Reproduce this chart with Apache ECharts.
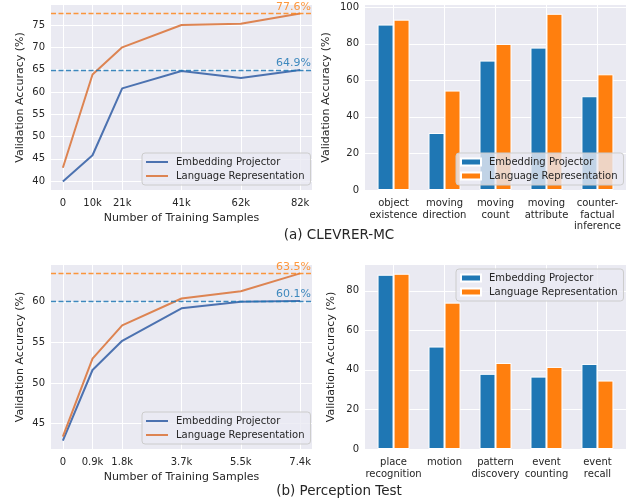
<!DOCTYPE html>
<html><head><meta charset="utf-8">
<script src="https://cdn.jsdelivr.net/npm/echarts@6/dist/echarts.min.js"></script>
<style>html,body{margin:0;padding:0;background:#fff}#c{width:628px;height:503px}</style>
</head><body><div id="c"></div>
<script>
// ---------- data ----------
const legendLabels = ['Embedding Projector', 'Language Representation'];

const clevrerSamples = [0, 10250, 20500, 41000, 61500, 82000];
const clevrerSampleLabels = ['0', '10k', '21k', '41k', '62k', '82k'];
const clevrerEP = [39.9, 45.8, 60.8, 64.7, 63.1, 64.9];
const clevrerLR = [43.0, 63.9, 70.0, 75.0, 75.3, 77.6];
const clevrerYTicks = [40, 45, 50, 55, 60, 65, 70, 75];

const clevrerCats = ['object\nexistence', 'moving\ndirection', 'moving\ncount', 'moving\nattribute', 'counter-\nfactual\ninference'];
const clevrerCatEP = [90.5, 31.2, 70.8, 77.9, 51.3];
const clevrerCatLR = [93.2, 54.4, 79.9, 96.4, 63.3];
const clevrerBarTicks = [0, 20, 40, 60, 80, 100];

const ptSamples = [0, 925, 1850, 3700, 5550, 7400];
const ptSampleLabels = ['0', '0.9k', '1.8k', '3.7k', '5.5k', '7.4k'];
const ptEP = [42.9, 51.6, 55.2, 59.2, 60.0, 60.1];
const ptLR = [43.4, 53.0, 57.1, 60.4, 61.3, 63.5];
const ptYTicks = [45, 50, 55, 60];

const ptCats = ['place\nrecognition', 'motion', 'pattern\ndiscovery', 'event\ncounting', 'event\nrecall'];
const ptCatEP = [88.1, 51.8, 38.0, 36.6, 43.0];
const ptCatLR = [88.6, 74.0, 43.5, 41.5, 34.6];
const ptBarTicks = [0, 20, 40, 60, 80];

const captions = ['(a) CLEVRER-MC', '(b) Perception Test'];
const yName = 'Validation Accuracy (%)';
const xName = 'Number of Training Samples';

// ---------- style ----------
const FONT = 'DejaVu Sans';
const TXT = '#262626';
const BG = '#eaeaf2';
const LINE_BLUE = '#4c72b0', LINE_ORANGE = '#dd8452';
const BAR_BLUE = '#1f77b4', BAR_ORANGE = '#ff7f0e';
const DASH_BLUE = 'rgba(31,119,180,0.85)', DASH_ORANGE = 'rgba(255,127,14,0.8)';
const displayName = { lineEP: legendLabels[0], lineLR: legendLabels[1], barEP: legendLabels[0], barLR: legendLabels[1] };

function padExt(lo, hi) { const s = hi - lo; return [lo - 0.05 * s, hi + 0.05 * s]; }
function allMin(a, b) { return Math.min(...a, ...b); }
function allMax(a, b) { return Math.max(...a, ...b); }

function axis(type, gi, ext, ticks, fmt, name, nameGap, labelMargin) {
  return {
    type: 'value', gridIndex: gi, min: ext[0], max: ext[1],
    name: name || '', nameLocation: 'middle', nameGap: nameGap, nameMoveOverlap: false,
    nameTextStyle: { color: TXT, fontFamily: FONT, fontSize: 11 },
    axisLine: { show: false },
    axisTick: { show: false, customValues: ticks },
    axisLabel: { customValues: ticks, formatter: fmt, color: TXT, fontFamily: FONT, fontSize: 10, margin: labelMargin, lineHeight: 11.5 },
    splitLine: { show: true, lineStyle: { color: '#ffffff', width: 1 } }
  };
}

function lineSeries(name, gi, xs, ys, color, dashColor) {
  const best = Math.max(...ys);
  return {
    type: 'line', name, xAxisIndex: gi, yAxisIndex: gi,
    data: xs.map((x, i) => [x, ys[i]]),
    showSymbol: false, symbol: 'none', z: 3,
    lineStyle: { color, width: 2 }, itemStyle: { color },
    markLine: {
      silent: true, symbol: 'none', animation: false,
      data: [{ yAxis: best }],
      lineStyle: { color: dashColor, type: [5, 2.5], width: 1.3 },
      label: { position: 'insideEndTop', formatter: best.toFixed(1) + '%', color: dashColor, fontFamily: FONT, fontSize: 11, distance: 1 }
    }
  };
}

function barSeries(name, gi, vals, color) {
  return {
    type: 'bar', name, xAxisIndex: gi, yAxisIndex: gi,
    data: vals.map((v, i) => [i, v]),
    barWidth: 16, barGap: '0%',
    itemStyle: { color, borderColor: '#ffffff', borderWidth: 1 }
  };
}

function legend(left, top, names, isLine) {
  return {
    left, top, orient: 'vertical', data: names, selectedMode: false,
    icon: 'rect', itemWidth: isLine ? 22 : 20, itemHeight: isLine ? 2 : 7, itemGap: 2,
    padding: [3, 6, 3, 4], backgroundColor: 'rgba(234,234,242,0.8)',
    borderColor: '#cccccc', borderWidth: 1, borderRadius: 3,
    formatter: n => displayName[n],
    textStyle: { color: TXT, fontFamily: FONT, fontSize: 10, lineHeight: 12, padding: [0, 0, 0, 3] }
  };
}

const catIdx = [0, 1, 2, 3, 4];
const barXExt = [-0.56, 4.56];

const grids = [
  { left: 51, top: 5, width: 261, height: 185 },
  { left: 365, top: 5, width: 261, height: 185 },
  { left: 51, top: 265, width: 261, height: 184 },
  { left: 365, top: 265, width: 261, height: 184 }
].map(g => Object.assign(g, { show: true, backgroundColor: BG, borderWidth: 0, containLabel: false, outerBoundsMode: 'none' }));

const option = {
  animation: false,
  backgroundColor: '#ffffff',
  textStyle: { fontFamily: FONT },
  grid: grids,
  xAxis: [
    axis('x', 0, padExt(clevrerSamples[0], clevrerSamples[clevrerSamples.length - 1]), clevrerSamples,
      v => clevrerSampleLabels[clevrerSamples.indexOf(v)], xName, 23, 8),
    axis('x', 1, barXExt, catIdx, v => clevrerCats[v], '', 0, 8),
    axis('x', 2, padExt(ptSamples[0], ptSamples[ptSamples.length - 1]), ptSamples,
      v => ptSampleLabels[ptSamples.indexOf(v)], xName, 23, 8),
    axis('x', 3, barXExt, catIdx, v => ptCats[v], '', 0, 8)
  ],
  yAxis: [
    axis('y', 0, padExt(allMin(clevrerEP, clevrerLR), allMax(clevrerEP, clevrerLR)), clevrerYTicks, v => String(v), yName, 25, 6),
    axis('y', 1, [0, allMax(clevrerCatEP, clevrerCatLR) * 1.05], clevrerBarTicks, v => String(v), yName, 33, 6),
    axis('y', 2, padExt(allMin(ptEP, ptLR), allMax(ptEP, ptLR)), ptYTicks, v => String(v), yName, 25, 6),
    axis('y', 3, [0, allMax(ptCatEP, ptCatLR) * 1.05], ptBarTicks, v => String(v), yName, 28, 6)
  ],
  legend: [
    legend(142, 153, ['lineEP', 'lineLR'], true),
    legend(456, 153, ['barEP', 'barLR'], false),
    legend(142, 412, ['lineEP', 'lineLR'], true),
    legend(456, 269, ['barEP', 'barLR'], false)
  ],
  series: [
    lineSeries('lineEP', 0, clevrerSamples, clevrerEP, LINE_BLUE, DASH_BLUE),
    lineSeries('lineLR', 0, clevrerSamples, clevrerLR, LINE_ORANGE, DASH_ORANGE),
    barSeries('barEP', 1, clevrerCatEP, BAR_BLUE),
    barSeries('barLR', 1, clevrerCatLR, BAR_ORANGE),
    lineSeries('lineEP', 2, ptSamples, ptEP, LINE_BLUE, DASH_BLUE),
    lineSeries('lineLR', 2, ptSamples, ptLR, LINE_ORANGE, DASH_ORANGE),
    barSeries('barEP', 3, ptCatEP, BAR_BLUE),
    barSeries('barLR', 3, ptCatLR, BAR_ORANGE)
  ],
  graphic: [
    { type: 'text', x: 339, y: 235, style: { text: captions[0], font: '13.5px "DejaVu Sans"', fill: TXT, align: 'center', verticalAlign: 'middle' } },
    { type: 'text', x: 339, y: 491, style: { text: captions[1], font: '13.5px "DejaVu Sans"', fill: TXT, align: 'center', verticalAlign: 'middle' } }
  ]
};

const chart = echarts.init(document.getElementById('c'), null, { renderer: 'canvas' });
chart.setOption(option);
</script>
</body></html>
